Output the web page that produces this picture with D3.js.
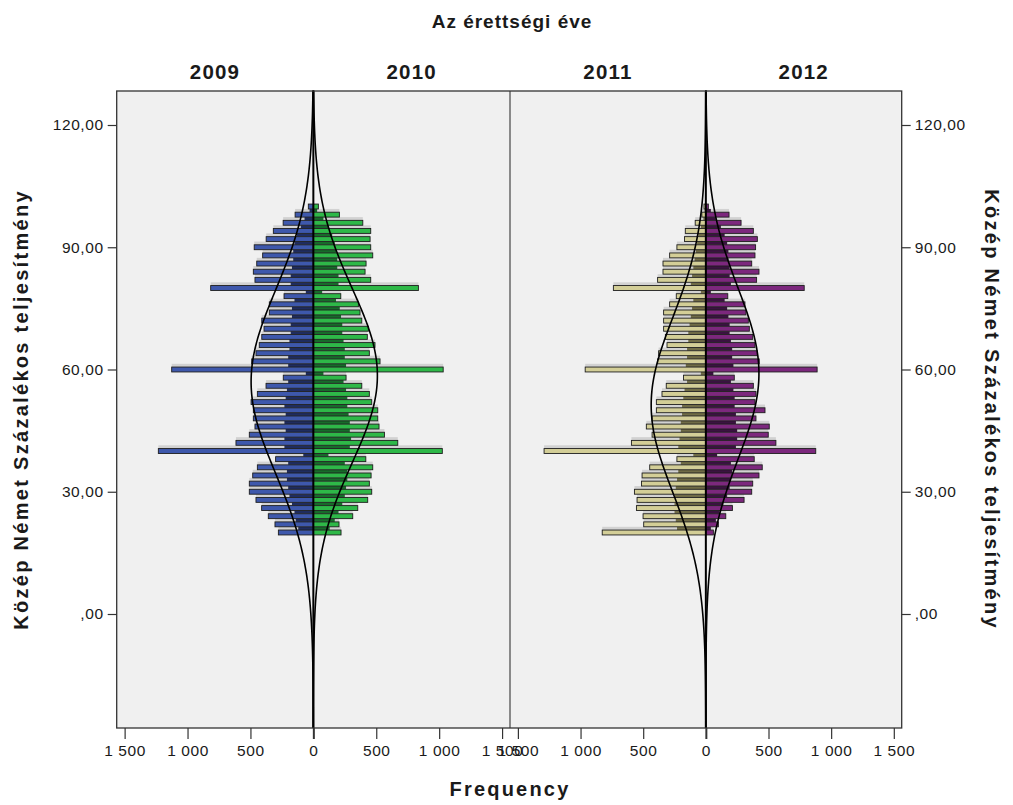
<!DOCTYPE html>
<html>
<head>
<meta charset="utf-8">
<script src="https://cdn.jsdelivr.net/npm/d3@7"></script>
<style>
  body { margin: 0; background: #fff; }
  text { font-family: "Liberation Sans", Arial, sans-serif; fill: #1a1a1a; }
  .bold { font-weight: bold; }
</style>
</head>
<body>
<svg id="chart" width="1013" height="805"></svg>
<script>
const years = ["2009", "2010", "2011", "2012"];
const fills = ["#3e58ac", "#2eb848", "#d3ce97", "#7c287d"];
const cores = ["#1f2c5e", "#176b2a", "#6f6b46", "#3a1240"];

// even percentages carry most of the counts, odd ones show as the dark core
const evenScores = [20, 22, 24, 26, 28, 30, 32, 34, 36, 38, 40, 42, 44, 46, 48, 50, 52, 54, 56, 58,
  60, 62, 64, 66, 68, 70, 72, 74, 76, 78, 80, 82, 84, 86, 88, 90, 92, 94, 96, 98, 100];
const oddScores = [21, 23, 25, 27, 29, 31, 33, 35, 37, 39, 41, 43, 45, 47, 49, 51, 53, 55, 57, 59,
  61, 63, 65, 67, 69, 71, 73, 75, 77, 79, 81, 83, 85, 87, 89, 91, 93, 95, 97, 99];

const even2009 = [278, 305, 358, 411, 456, 509, 509, 482, 445, 300, 1232, 615, 509, 464, 477, 477, 495, 445, 376, 239,
  1126, 490, 456, 430, 410, 392, 410, 350, 350, 233, 816, 464, 477, 450, 403, 470, 375, 318, 240, 145, 40];
const even2010 = [220, 204, 313, 353, 432, 464, 445, 459, 472, 417, 1025, 671, 565, 522, 512, 512, 464, 445, 385, 260,
  1032, 530, 445, 490, 429, 437, 385, 371, 358, 218, 835, 456, 411, 419, 472, 456, 451, 456, 393, 207, 40];
const even2011 = [827, 496, 501, 554, 549, 570, 514, 509, 448, 231, 1291, 594, 429, 475, 429, 395, 395, 350, 316, 178,
  963, 385, 377, 310, 323, 337, 337, 337, 289, 236, 738, 385, 342, 342, 289, 231, 170, 164, 85, 32, 15];
const even2012 = [60, 100, 159, 212, 305, 366, 374, 424, 450, 386, 877, 559, 498, 506, 400, 472, 392, 400, 379, 227,
  888, 426, 411, 392, 374, 347, 339, 320, 312, 175, 785, 405, 424, 366, 392, 397, 411, 379, 281, 185, 20];

const odd2009 = [120, 140, 150, 170, 190, 200, 210, 210, 200, 80, 230, 230, 220, 230, 220, 230, 220, 210, 200, 60,
  200, 200, 190, 190, 180, 180, 170, 170, 150, 60, 180, 180, 170, 160, 160, 150, 130, 100, 70, 30];
const odd2010 = [130, 170, 200, 230, 250, 260, 270, 270, 250, 120, 290, 300, 290, 290, 280, 270, 270, 260, 240, 80,
  260, 250, 250, 240, 230, 230, 220, 210, 180, 70, 200, 200, 190, 190, 180, 170, 150, 120, 80, 30];
const odd2011 = [230, 240, 250, 250, 250, 240, 230, 220, 200, 100, 220, 210, 200, 200, 190, 190, 180, 170, 150, 40,
  160, 150, 150, 140, 140, 130, 120, 110, 100, 40, 120, 110, 100, 90, 80, 70, 60, 40, 20, 10];
const odd2012 = [40, 80, 110, 140, 170, 190, 200, 210, 200, 90, 240, 250, 250, 240, 240, 230, 230, 220, 200, 60,
  220, 210, 210, 200, 190, 190, 180, 170, 150, 40, 200, 190, 190, 180, 180, 170, 150, 120, 80, 40];

const evenCounts = [even2009, even2010, even2011, even2012];
const oddCounts = [odd2009, odd2010, odd2011, odd2012];

// normal curve parameters per year
const curveMean = [57, 58.5, 51.3, 59];
const curveSd = [22.5, 21.4, 21.4, 21];
const curveN = [27900, 27300, 23400, 22300];

const yTicks = [0, 30, 60, 90, 120];
const yTickLabels = [",00", "30,00", "60,00", "90,00", "120,00"];
const xTicks = [-1500, -1000, -500, 0, 500, 1000, 1500];
const xTickLabels = ["1 500", "1 000", "500", "0", "500", "1 000", "1 500"];

const titleText = "Az érettségi éve";
const xTitle = "Frequency";
const yTitle = "Közép Német Százalékos teljesítmény";

const plot = {left: 116.7, mid: 510, right: 901.7, top: 91, bottom: 728};
const panels = [[plot.left, plot.mid], [plot.mid, plot.right]];

const svg = d3.select("#chart");

const y = d3.scaleLinear()
    .domain([0, 120])
    .range([614, 125]);

const xs = panels.map(r => d3.scaleLinear().domain([-1563, 1563]).range(r));

svg.append("rect")
    .attr("x", plot.left)
    .attr("y", plot.top)
    .attr("width", plot.right - plot.left)
    .attr("height", plot.bottom - plot.top)
    .attr("fill", "#f0f0f0");

function bar(g, x, x1, yTop, yBot) {
  const a = x(0), b = x(x1);
  return g.append("rect")
      .attr("x", Math.min(a, b))
      .attr("width", Math.abs(b - a))
      .attr("y", y(yTop))
      .attr("height", y(yBot) - y(yTop));
}

years.forEach((yr, i) => {
  const x = xs[Math.floor(i / 2)];
  const side = i % 2 === 0 ? -1 : 1;
  const g = svg.append("g");
  const ev = evenCounts[i], od = oddCounts[i];

  oddScores.forEach((v, j) => {
    bar(g, x, side * ev[j], v + 0.4, v - 0.4).attr("fill", "#d2d2d2");
    bar(g, x, side * od[j], v + 0.4, v - 0.4).attr("fill", cores[i]);
  });

  evenScores.forEach((v, j) => {
    bar(g, x, side * ev[j], v + 0.6, v - 0.6)
        .attr("fill", fills[i])
        .attr("stroke", "#1e1e1e")
        .attr("stroke-width", 0.9);
  });
});

// normal curves
years.forEach((yr, i) => {
  const x = xs[Math.floor(i / 2)];
  const side = i % 2 === 0 ? -1 : 1;
  const m = curveMean[i], s = curveSd[i], n = curveN[i];
  const pdf = v => n * Math.exp(-((v - m) ** 2) / (2 * s * s)) / (s * Math.sqrt(2 * Math.PI));
  const vals = d3.range(y.invert(plot.bottom), y.invert(plot.top) + 0.25, 0.25);
  svg.append("path")
      .datum(vals)
      .attr("fill", "none")
      .attr("stroke", "#000")
      .attr("stroke-width", 1.6)
      .attr("d", d3.line().x(v => x(side * pdf(v))).y(v => y(v)));
});

// zero lines
xs.forEach(x => {
  svg.append("line")
      .attr("x1", x(0)).attr("x2", x(0))
      .attr("y1", plot.top).attr("y2", plot.bottom)
      .attr("stroke", "#000")
      .attr("stroke-width", 2);
});

svg.append("line")
    .attr("x1", plot.mid).attr("x2", plot.mid)
    .attr("y1", plot.top).attr("y2", plot.bottom)
    .attr("stroke", "#222")
    .attr("stroke-width", 1);

svg.append("rect")
    .attr("x", plot.left)
    .attr("y", plot.top)
    .attr("width", plot.right - plot.left)
    .attr("height", plot.bottom - plot.top)
    .attr("fill", "none")
    .attr("stroke", "#333")
    .attr("stroke-width", 1.3);

function styleTicks(g) {
  g.select(".domain").remove();
  g.selectAll(".tick line").attr("stroke", "#333").attr("stroke-width", d => d === 0 ? 2 : 1.2);
  g.selectAll(".tick text")
      .attr("font-family", "Liberation Sans, Arial, sans-serif")
      .attr("font-size", 15.5)
      .attr("letter-spacing", 0.6)
      .attr("fill", "#222");
}

// x axes
xs.forEach(x => {
  svg.append("g")
      .attr("transform", `translate(0,${plot.bottom})`)
      .call(d3.axisBottom(x).tickValues(xTicks).tickFormat((d, k) => xTickLabels[k]).tickSize(11).tickPadding(6))
      .call(styleTicks);
});

// y axes
svg.append("g")
    .attr("transform", `translate(${plot.left},0)`)
    .call(d3.axisLeft(y).tickValues(yTicks).tickFormat((d, k) => yTickLabels[k]).tickSize(9).tickPadding(4))
    .call(styleTicks)
    .call(g => g.selectAll(".tick line").attr("stroke-width", 1.2));

svg.append("g")
    .attr("transform", `translate(${plot.right},0)`)
    .call(d3.axisRight(y).tickValues(yTicks).tickFormat((d, k) => yTickLabels[k]).tickSize(9).tickPadding(4))
    .call(styleTicks)
    .call(g => g.selectAll(".tick line").attr("stroke-width", 1.2));

// titles
svg.append("text")
    .attr("class", "bold")
    .attr("x", 512).attr("y", 28)
    .attr("text-anchor", "middle")
    .attr("font-size", 19)
    .attr("letter-spacing", 1)
    .text(titleText);

const yearX = [0, 1, 2, 3].map(i => {
  const x = xs[Math.floor(i / 2)];
  return i % 2 === 0 ? (x.range()[0] + x(0)) / 2 : (x(0) + x.range()[1]) / 2;
});

years.forEach((yr, i) => {
  svg.append("text")
      .attr("class", "bold")
      .attr("x", yearX[i]).attr("y", 79)
      .attr("text-anchor", "middle")
      .attr("font-size", 20.5)
      .attr("letter-spacing", 1.2)
      .text(yr);
});

svg.append("text")
    .attr("class", "bold")
    .attr("x", 510).attr("y", 796)
    .attr("text-anchor", "middle")
    .attr("font-size", 20)
    .attr("letter-spacing", 2.2)
    .text(xTitle);

svg.append("text")
    .attr("class", "bold")
    .attr("transform", `translate(28,${(plot.top + plot.bottom) / 2}) rotate(-90)`)
    .attr("text-anchor", "middle")
    .attr("font-size", 20)
    .attr("letter-spacing", 2.3)
    .text(yTitle);

svg.append("text")
    .attr("class", "bold")
    .attr("transform", `translate(985,${(plot.top + plot.bottom) / 2}) rotate(90)`)
    .attr("text-anchor", "middle")
    .attr("font-size", 20)
    .attr("letter-spacing", 2.3)
    .text(yTitle);
</script>
</body>
</html>
